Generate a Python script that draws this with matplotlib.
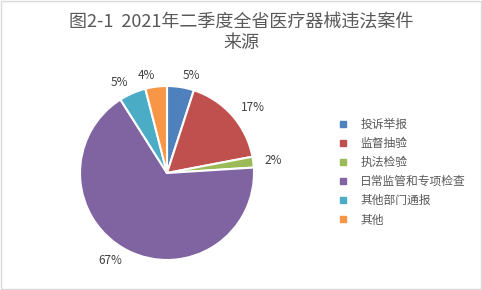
import matplotlib.pyplot as plt
from matplotlib.lines import Line2D
from matplotlib.patches import Rectangle

plt.rcParams['font.family'] = ['Noto Sans CJK SC', 'DejaVu Sans']

# data
categories = ["投诉举报", "监督抽验", "执法检验", "日常监管和专项检查", "其他部门通报", "其他"]
shares = [5, 17, 2, 67, 5, 4]
colors = ["#4F81BD", "#C0504D", "#9BBB59", "#8064A2", "#4BACC6", "#F79646"]
title = "图2-1  2021年二季度全省医疗器械违法案件\n来源"

fig = plt.figure(figsize=(4.82, 2.90), dpi=100)
fig.patches.append(Rectangle((0.002, 0.003), 0.996, 0.994, transform=fig.transFigure,
                             fill=False, edgecolor="#D9D9D9", linewidth=1))

ax = fig.add_axes([80 / 482, 30 / 290, 174 / 482, 174 / 290])
wedges, texts = ax.pie(shares, colors=colors, startangle=90, counterclock=False,
                       labels=[f"{v}%" for v in shares], labeldistance=1.13,
                       wedgeprops=dict(edgecolor="white", linewidth=1.5),
                       textprops=dict(color="#404040", fontsize=8.5))
ax.set_xlim(-1, 1)
ax.set_ylim(-1, 1)
ax.set_aspect("equal")

fig.text(0.5, 1 - 33 / 290, title, ha="center", va="center", fontsize=13,
         color="#595959", linespacing=1.2)

handles = [Line2D([], [], marker="s", linestyle="none", markersize=5,
                  markerfacecolor=c, markeredgecolor=c) for c in colors]
fig.legend(handles, categories, loc="upper left", bbox_to_anchor=(332 / 482, 1 - 113 / 290),
           frameon=False, fontsize=8.5, labelspacing=0.52, handletextpad=1.0,
           handlelength=1.0, labelcolor="#595959", borderaxespad=0)

fig.savefig("out.png", dpi=100)
